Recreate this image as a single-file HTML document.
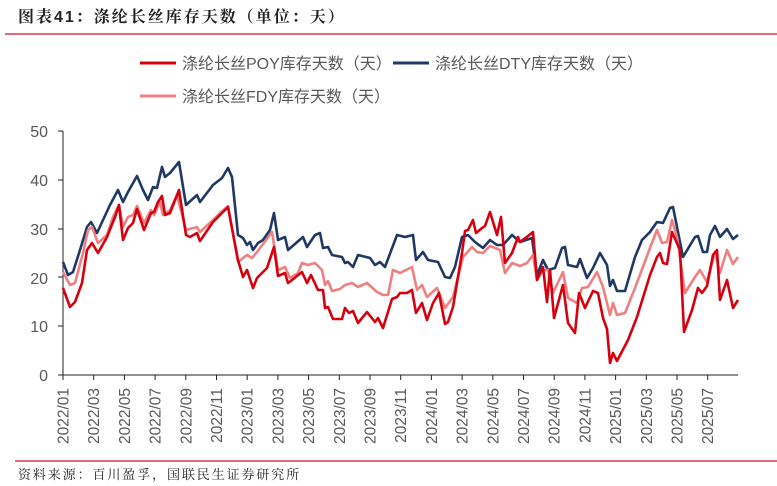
<!DOCTYPE html>
<html><head><meta charset="utf-8"><style>
body{margin:0;background:#fff;width:777px;height:486px;overflow:hidden}
svg{display:block}
</style></head><body>
<svg width="777" height="486" xmlns="http://www.w3.org/2000/svg" font-family="Liberation Sans, Noto Sans CJK SC, sans-serif">
<text x="18" y="22" font-size="16" font-weight="bold" fill="#222" letter-spacing="2" font-family="Liberation Sans, Noto Serif CJK SC, serif">图表41：涤纶长丝库存天数（单位：天）</text>
<line x1="5" y1="34" x2="777" y2="34" stroke="#d0122e" stroke-width="1.2"/>
<line x1="140" y1="63" x2="176" y2="63" stroke="#d7000f" stroke-width="3"/>
<text x="182" y="69" font-size="16" fill="#595959">涤纶长丝POY库存天数（天）</text>
<line x1="393" y1="63" x2="429" y2="63" stroke="#1f3864" stroke-width="3"/>
<text x="435" y="69" font-size="16" fill="#595959">涤纶长丝DTY库存天数（天）</text>
<line x1="140" y1="96" x2="176" y2="96" stroke="#f08080" stroke-width="3"/>
<text x="182" y="102" font-size="16" fill="#595959">涤纶长丝FDY库存天数（天）</text>
<g font-size="16" fill="#595959" text-anchor="end">
<text x="48" y="137">50</text><text x="48" y="186">40</text><text x="48" y="235">30</text>
<text x="48" y="284">20</text><text x="48" y="332">10</text><text x="48" y="381">0</text>
</g>
<g stroke="#222" stroke-width="1">
<line x1="63" y1="131" x2="63" y2="375"/>
<line x1="58" y1="131" x2="63" y2="131"/><line x1="58" y1="180" x2="63" y2="180"/>
<line x1="58" y1="229" x2="63" y2="229"/><line x1="58" y1="277" x2="63" y2="277"/>
<line x1="58" y1="326" x2="63" y2="326"/><line x1="58" y1="375" x2="63" y2="375"/>
<line x1="63" y1="375" x2="738" y2="375"/>
</g>
<g id="xt" stroke="#222" stroke-width="1"></g>
<g id="xl" font-size="15.5" fill="#595959"></g>
<polyline fill="none" stroke="#1f3864" stroke-width="2.6" stroke-linejoin="round" points="63,262 68,275 73,272 80,250 87,227 91,222 97,233 103,220 110,205 118,190 123,202 128,192 137,176 143,190 148,200 153,187 157,188 162,167 165,177 170,173 179,162 186,205 197,195 200,202 213,185 222,178 228,168 232,177 238,235 243,238 247,245 250,242 253,250 258,243 263,240 270,230 274,213 278,240 285,237 288,250 303,237 307,247 315,235 320,233 323,248 328,247 332,255 342,257 345,263 348,262 353,267 358,255 370,258 375,265 380,262 385,267 397,235 405,237 413,235 416,260 423,252 428,260 438,262 445,277 450,278 455,267 462,237 468,235 475,242 483,248 490,240 497,245 503,245 512,235 520,242 532,238 537,275 543,260 548,270 555,268 562,248 565,247 568,265 577,267 580,259 587,278 593,268 600,253 607,265 610,286 613,280 617,291 625,291 635,257 642,240 650,232 657,222 663,223 670,208 673,207 683,257 695,237 698,236 703,252 707,252 710,235 715,226 720,237 727,229 733,239 738,235"/>
<polyline fill="none" stroke="#f08080" stroke-width="2.6" stroke-linejoin="round" points="63,272 70,285 75,283 83,253 88,230 92,227 98,243 107,235 113,217 119,205 123,227 128,217 133,215 137,206 144,223 151,210 154,215 160,202 163,215 170,210 177,195 186,230 197,227 200,232 213,220 220,213 228,206 238,262 247,255 252,258 257,252 272,232 278,270 285,267 290,278 298,273 302,263 308,265 315,263 322,270 325,285 328,281 332,291 340,289 345,285 352,283 358,287 367,283 377,292 383,295 388,295 393,270 400,273 412,267 417,290 422,285 427,297 437,288 445,308 453,297 463,257 472,247 477,252 483,253 490,246 500,250 505,273 512,263 520,266 527,263 533,255 537,280 543,270 548,270 553,293 563,272 568,298 577,303 582,288 588,287 597,272 603,287 610,315 613,303 617,315 625,313 635,288 650,248 657,230 662,243 667,242 672,220 677,237 685,293 695,277 700,270 707,282 715,252 720,273 727,250 733,264 738,257"/>
<polyline fill="none" stroke="#d7000f" stroke-width="2.6" stroke-linejoin="round" points="63,288 70,307 75,302 82,283 87,250 92,243 98,253 107,237 115,217 119,205 123,240 128,228 133,223 137,209 144,230 151,213 154,212 158,202 162,196 165,215 170,213 179,190 186,235 190,237 197,233 200,241 213,222 220,215 228,207 238,260 243,277 247,270 253,288 257,278 267,268 273,250 274,247 278,276 285,273 288,283 292,280 302,272 307,283 311,275 318,290 323,290 325,308 328,307 333,319 342,319 345,308 349,313 353,311 358,323 367,312 375,322 378,318 383,328 392,299 397,297 400,293 407,293 412,290 416,313 422,303 427,320 433,303 439,293 445,324 448,322 453,307 462,253 465,231 468,230 473,220 476,233 482,228 485,226 490,212 497,235 501,217 505,263 512,253 518,237 520,242 528,236 533,232 537,280 543,267 547,302 550,270 554,318 563,285 568,323 575,333 579,293 585,308 593,291 598,293 603,318 607,329 610,363 613,353 617,361 628,340 637,317 650,275 657,257 660,253 663,263 667,264 672,232 680,250 684,332 692,310 698,288 702,293 707,286 713,255 717,250 720,300 727,280 733,308 738,300"/>
<line x1="15" y1="461" x2="777" y2="461" stroke="#d0122e" stroke-width="1.2"/>
<text x="18" y="479" font-size="13" fill="#222" letter-spacing="1.9" font-family="Liberation Serif, Noto Serif CJK SC, serif">资料来源：百川盈孚，国联民生证券研究所</text>
<script>
var labs=["2022/01","2022/03","2022/05","2022/07","2022/09","2022/11","2023/01","2023/03","2023/05","2023/07","2023/09","2023/11","2024/01","2024/03","2024/05","2024/07","2024/09","2024/11","2025/01","2025/03","2025/05","2025/07"];
var t=document.getElementById('xt'),l=document.getElementById('xl'),ns="http://www.w3.org/2000/svg";
labs.forEach(function(s,i){var x=63+i*30.7;
var ln=document.createElementNS(ns,'line');ln.setAttribute('x1',x);ln.setAttribute('x2',x);ln.setAttribute('y1',375);ln.setAttribute('y2',380);t.appendChild(ln);
var tx=document.createElementNS(ns,'text');tx.setAttribute('transform','translate('+(x+5.5)+',388) rotate(-90)');tx.setAttribute('text-anchor','end');tx.textContent=s;l.appendChild(tx);});
</script>
</svg>
</body></html>
